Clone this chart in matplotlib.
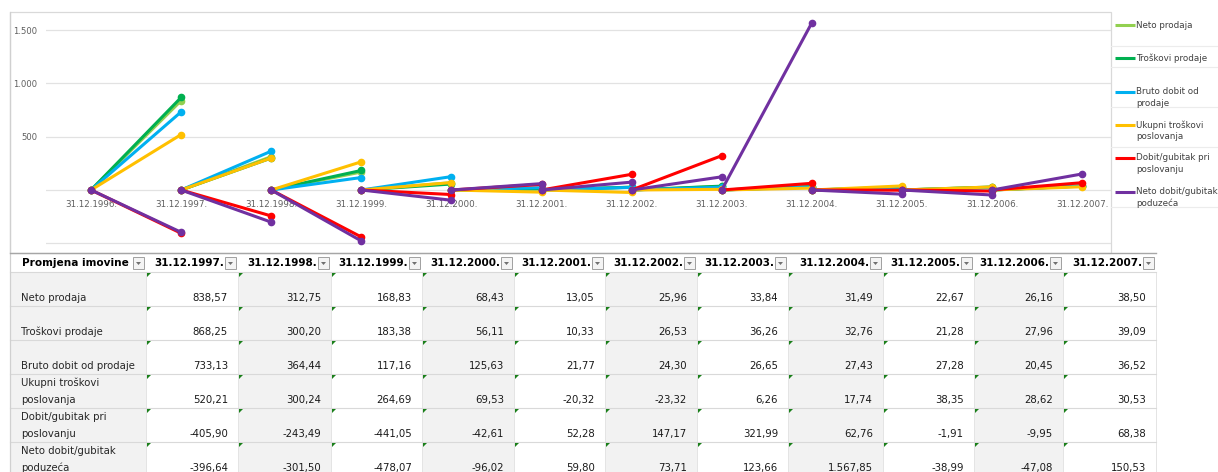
import matplotlib
matplotlib.use("Agg")
import matplotlib.pyplot as plt
from matplotlib.patches import Rectangle, Polygon
from matplotlib.ticker import FuncFormatter
import numpy as np

# podaci
godine = ['31.12.1996.', '31.12.1997.', '31.12.1998.', '31.12.1999.', '31.12.2000.', '31.12.2001.',
          '31.12.2002.', '31.12.2003.', '31.12.2004.', '31.12.2005.', '31.12.2006.', '31.12.2007.']
stavke = ['Neto prodaja', 'Troškovi prodaje', 'Bruto dobit od prodaje',
          'Ukupni troškovi\nposlovanja', 'Dobit/gubitak pri\nposlovanju', 'Neto dobit/gubitak\npoduzeća']
legenda = ['Neto prodaja', 'Troškovi prodaje', 'Bruto dobit od\nprodaje',
           'Ukupni troškovi\nposlovanja', 'Dobit/gubitak pri\nposlovanju', 'Neto dobit/gubitak\npoduzeća']
neto_prodaja = [838.57, 312.75, 168.83, 68.43, 13.05, 25.96, 33.84, 31.49, 22.67, 26.16, 38.50]
troskovi_prodaje = [868.25, 300.20, 183.38, 56.11, 10.33, 26.53, 36.26, 32.76, 21.28, 27.96, 39.09]
bruto_dobit = [733.13, 364.44, 117.16, 125.63, 21.77, 24.30, 26.65, 27.43, 27.28, 20.45, 36.52]
ukupni_troskovi = [520.21, 300.24, 264.69, 69.53, -20.32, -23.32, 6.26, 17.74, 38.35, 28.62, 30.53]
dobit_poslovanje = [-405.90, -243.49, -441.05, -42.61, 52.28, 147.17, 321.99, 62.76, -1.91, -9.95, 68.38]
neto_dobit = [-396.64, -301.50, -478.07, -96.02, 59.80, 73.71, 123.66, 1567.85, -38.99, -47.08, 150.53]

serije = [neto_prodaja, troskovi_prodaje, bruto_dobit, ukupni_troskovi, dobit_poslovanje, neto_dobit]
boje = ['#92D050', '#00B050', '#00B0F0', '#FFC000', '#FF0000', '#7030A0']

W, H = 1218, 472
fig = plt.figure(figsize=(W / 100, H / 100), dpi=100)

# pozadinski sloj u pikselima (tablica, okvir, legenda)
bg = fig.add_axes([0, 0, 1, 1])
bg.set_xlim(0, W)
bg.set_ylim(H, 0)
bg.axis('off')

# okvir grafikona
bg.add_patch(Rectangle((10, 12), 1101, 241, fill=False, ec='#d9d9d9', lw=0.9))
bg.plot([10, 10], [12, H], color='#d0d0d0', lw=0.9)
for yy in [46, 67, 107, 147, 207]:
    bg.plot([1111, W], [yy, yy], color='#ececec', lw=0.8)

# legenda
leg_y = [25, 58, 92, 125, 158, 192]
for lab, c, yy in zip(legenda, boje, leg_y):
    bg.plot([1115, 1135], [yy, yy], color=c, lw=2.2, solid_capstyle='butt')
    for k, dio in enumerate(lab.split('\n')):
        bg.text(1136, yy + k * 11.5, dio, fontsize=6.3, color='#404040', va='center', ha='left')

# tablica
rubovi = [10, 146, 238, 331, 422, 514, 605, 697, 788, 883, 974, 1063, 1156]
dno_redova = [306, 340, 374, 408, 442, 476]

for j in range(len(rubovi) - 1):
    if j % 2 == 0:
        bg.add_patch(Rectangle((rubovi[j], 272), rubovi[j + 1] - rubovi[j], H - 272,
                               fc='#f2f2f2', ec='none', zorder=0))
for x in rubovi[1:]:
    bg.plot([x, x], [272, H], color='#e4e4e4', lw=0.7, zorder=1)
for yy in [272] + dno_redova[:-1]:
    bg.plot([10, 1156], [yy, yy], color='#d9d9d9', lw=0.8, zorder=1)
bg.plot([10, 1156], [253, 253], color='#a6a6a6', lw=1.0, zorder=2)


def gumb(xr):
    bg.add_patch(Rectangle((xr - 13, 257), 11, 12, fc='#f4f4f4', ec='#a0a0a0', lw=0.7, zorder=4))
    bg.add_patch(Polygon([(xr - 10, 262), (xr - 5, 262), (xr - 7.5, 265)], closed=True,
                         fc='#707070', ec='none', zorder=5))


bg.text(22, 263, 'Promjena imovine', fontsize=7.6, fontweight='bold', va='center', ha='left', zorder=3)
gumb(rubovi[1])
for j, g in enumerate(godine[1:]):
    xr = rubovi[j + 2]
    bg.text(xr - 14, 263, g, fontsize=7.5, fontweight='bold', va='center', ha='right', zorder=3)
    gumb(xr)


def fmt(v):
    s = f"{v:,.2f}"
    return s.replace(',', 'X').replace('.', ',').replace('X', '.')


for i, (lab, ser) in enumerate(zip(stavke, serije)):
    dno = dno_redova[i]
    dijelovi = lab.split('\n')
    for k, dio in enumerate(reversed(dijelovi)):
        bg.text(21, dno - 8 - k * 17, dio, fontsize=7.3, color='#262626', va='center', ha='left', zorder=3)
    for j, v in enumerate(ser):
        xl, xr = rubovi[j + 1], rubovi[j + 2]
        bg.text(xr - 10, dno - 8, fmt(v), fontsize=7.3, color='#1a1a1a', va='center', ha='right', zorder=3)
        top = dno - 34
        bg.add_patch(Polygon([(xl + 1, top + 1), (xl + 5, top + 1), (xl + 1, top + 5)], closed=True,
                             fc='#1a7f1a', ec='none', zorder=3))

# grafikon
ax = fig.add_axes([46 / W, 1 - 250 / H, (1111 - 46) / W, (250 - 12) / H])
ax.patch.set_alpha(0)
korak = 90.1
ax.set_xlim(-0.5, (1111 - 91) / korak)
px500 = 53.3
ax.set_ylim(-(250 - 190) / px500 * 500, (190 - 12) / px500 * 500)

for ser, c in zip(serije, boje):
    xs, ys = [], []
    for i, v in enumerate(ser):
        xs += [i, i + 1, np.nan]
        ys += [0, v, np.nan]
    ax.plot(xs, ys, color=c, lw=2.2, marker='o', markersize=4.5, solid_capstyle='round')

ax.set_yticks([-500, 0, 500, 1000, 1500])
ax.yaxis.set_major_formatter(FuncFormatter(
    lambda v, p: f"{v:,.0f}".replace(',', '.') if v > 0 else ''))
ax.grid(axis='y', color='#e2e2e2', lw=0.9)
ax.set_axisbelow(True)
ax.set_xticks(range(len(godine)))
ax.set_xticklabels(godine)
ax.spines['bottom'].set_position(('data', 0))
for s in ax.spines.values():
    s.set_visible(False)
ax.tick_params(axis='x', length=0, pad=7, labelsize=6.3, labelcolor='#5f5f5f')
ax.tick_params(axis='y', length=0, pad=6, labelsize=6.1, labelcolor='#5f5f5f')

fig.savefig('out.png', dpi=100)
